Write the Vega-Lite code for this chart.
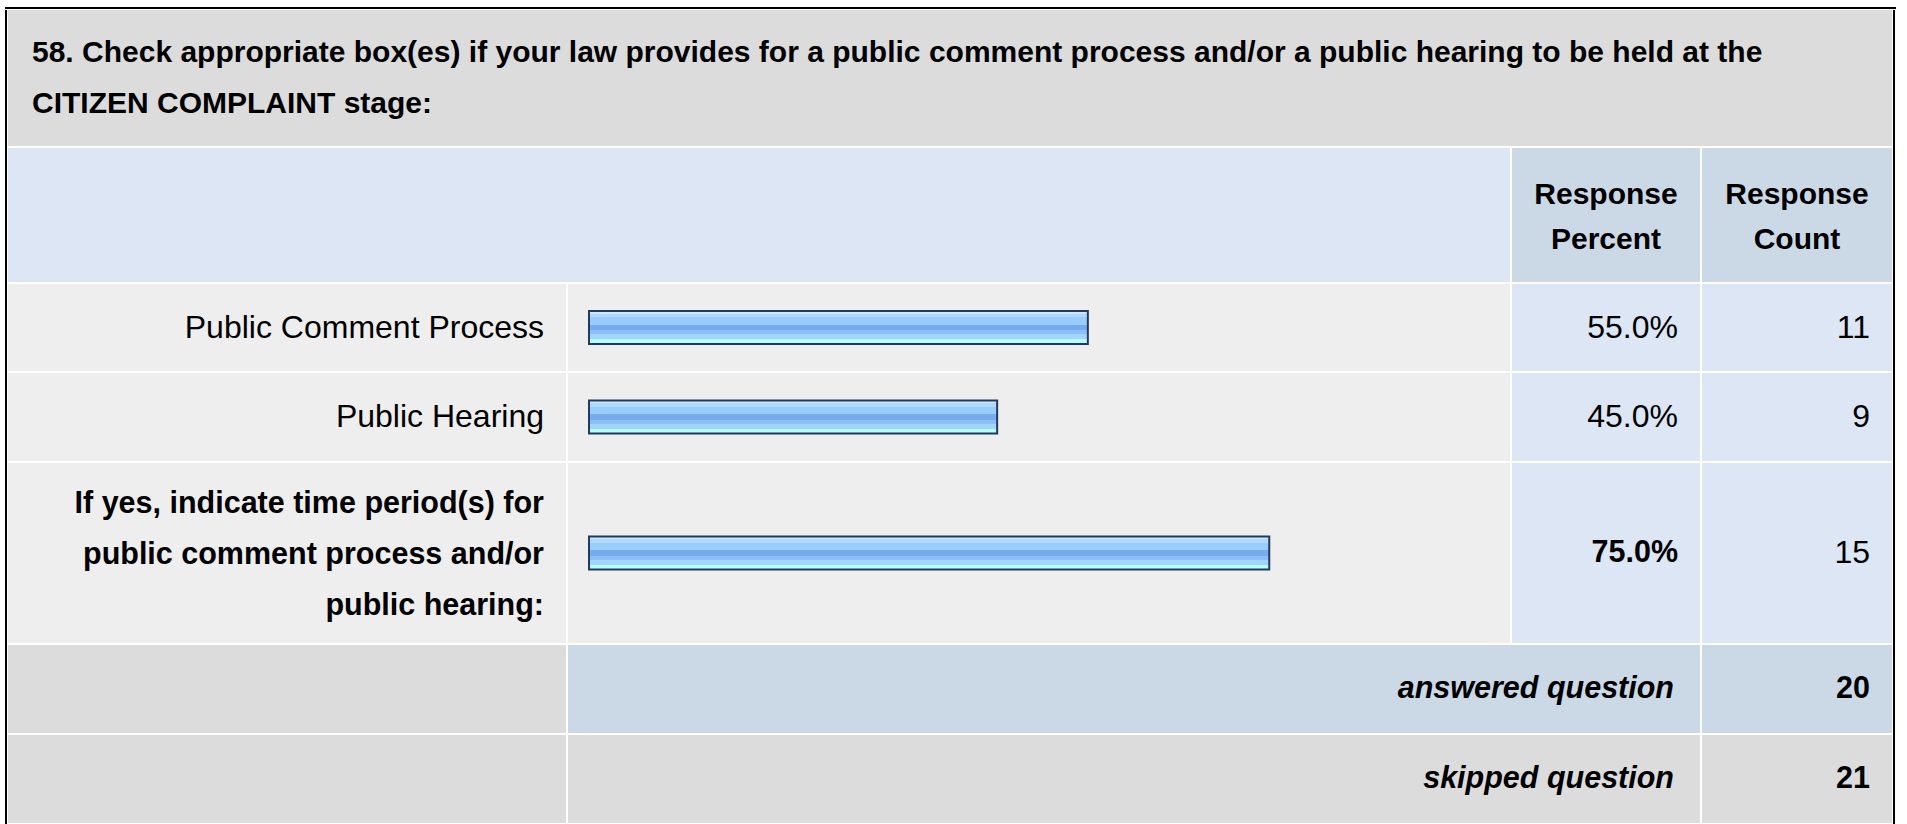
{
  "$schema": "https://vega.github.io/schema/vega-lite/v6.json",
  "background": "#ffffff",
  "padding": {"left": 5, "top": 7, "right": 0, "bottom": 0},
  "config": {
    "view": {"stroke": null},
    "text": {"font": "Liberation Sans", "fontSize": 32, "fill": "#000000", "baseline": "middle", "lineHeight": 50, "lineBreak": "\n"}
  },
  "datasets": {
    "question": [{"q": "58. Check appropriate box(es) if your law provides for a public comment process and/or a public hearing to be held at the\nCITIZEN COMPLAINT stage:"}],
    "answers": [
      {"answer": "Public Comment Process", "percent": 0.55, "count": 11},
      {"answer": "Public Hearing", "percent": 0.45, "count": 9},
      {"answer": "If yes, indicate time period(s) for\npublic comment process and/or\npublic hearing:", "percent": 0.75, "count": 15}
    ],
    "summary": [
      {"stat": "answered question", "value": 20},
      {"stat": "skipped question", "value": 21}
    ]
  },
  "spacing": 1,
  "vconcat": [
    {"width": 1891, "height": 2, "data": {"name": "question"}, "mark": {"type": "rect", "color": "#000000"}},
    {
      "spacing": 1,
      "hconcat": [
        {"width": 2, "height": 816, "data": {"name": "question"}, "mark": {"type": "rect", "color": "#000000"}},
        {
          "spacing": 2,
          "vconcat": [
            {
              "width": 1884, "height": 136, "view": {"fill": "#DCDCDC"},
              "data": {"name": "question"},
              "mark": {"type": "text", "align": "left", "dx": 24, "dy": -25, "fontWeight": "bold", "fontSize": 30, "lineHeight": 51},
              "encoding": {"x": {"value": 0}, "text": {"field": "q"}}
            },
            {
              "spacing": 2,
              "hconcat": [
                {"width": 1502, "height": 134, "data": {"name": "question"}, "mark": {"type": "rect", "color": "#DCE6F4"}},
                {"width": 188, "height": 134, "view": {"fill": "#CBD8E6"}, "data": {"name": "question"}, "mark": {"type": "text", "text": "Response\nPercent", "fontWeight": "bold", "fontSize": 30, "lineHeight": 45, "dy": -20, "align": "center"}},
                {"width": 190, "height": 134, "view": {"fill": "#CBD8E6"}, "data": {"name": "question"}, "mark": {"type": "text", "text": "Response\nCount", "fontWeight": "bold", "fontSize": 30, "lineHeight": 45, "dy": -20, "align": "center"}}
              ]
            },
            {
              "spacing": 2,
              "hconcat": [
                {"width": 558, "height": 87, "view": {"fill": "#EEEEEE"}, "data": {"name": "answers"}, "transform": [{"filter": {"field": "answer", "equal": "Public Comment Process"}}],
                 "mark": {"type": "text", "align": "right", "dx": -22}, "encoding": {"x": {"value": "width"}, "text": {"field": "answer"}}},
                {"width": 942, "height": 87, "view": {"fill": "#EEEEEE"}, "data": {"name": "answers"}, "transform": [{"filter": {"field": "answer", "equal": "Public Comment Process"}}],
                 "mark": {"type": "bar", "height": 33, "stroke": "#213A5E", "strokeWidth": 2,
                   "color": {"gradient": "linear", "x1": 0, "y1": 0, "x2": 0, "y2": 1, "stops": [
                     {"offset": 0, "color": "#CCE8FF"}, {"offset": 0.09, "color": "#CCE8FF"},
                     {"offset": 0.09, "color": "#B0D8FF"}, {"offset": 0.19, "color": "#B0D8FF"},
                     {"offset": 0.19, "color": "#99CCFF"}, {"offset": 0.41, "color": "#99CCFF"},
                     {"offset": 0.41, "color": "#78ABEE"}, {"offset": 0.59, "color": "#78ABEE"},
                     {"offset": 0.59, "color": "#8CBFF8"}, {"offset": 0.7, "color": "#8CBFF8"},
                     {"offset": 0.7, "color": "#A3D3FF"}, {"offset": 0.85, "color": "#A3D3FF"},
                     {"offset": 0.85, "color": "#B3FFFF"}, {"offset": 1, "color": "#B3FFFF"}]}},
                 "encoding": {"x": {"field": "percent", "type": "quantitative", "scale": {"domain": [0, 1], "range": [21, 928]}, "axis": null}, "y": {"field": "answer", "type": "nominal", "axis": null}}},
                {"width": 188, "height": 87, "view": {"fill": "#DCE6F4"}, "data": {"name": "answers"}, "transform": [{"filter": {"field": "answer", "equal": "Public Comment Process"}}],
                 "mark": {"type": "text", "align": "right", "dx": -22}, "encoding": {"x": {"value": "width"}, "text": {"field": "percent", "type": "quantitative", "format": ".1%"}}},
                {"width": 190, "height": 87, "view": {"fill": "#DCE6F4"}, "data": {"name": "answers"}, "transform": [{"filter": {"field": "answer", "equal": "Public Comment Process"}}],
                 "mark": {"type": "text", "align": "right", "dx": -22}, "encoding": {"x": {"value": "width"}, "text": {"field": "count", "type": "quantitative"}}}
              ]
            },
            {
              "spacing": 2,
              "hconcat": [
                {"width": 558, "height": 88, "view": {"fill": "#EEEEEE"}, "data": {"name": "answers"}, "transform": [{"filter": {"field": "answer", "equal": "Public Hearing"}}],
                 "mark": {"type": "text", "align": "right", "dx": -22}, "encoding": {"x": {"value": "width"}, "text": {"field": "answer"}}},
                {"width": 942, "height": 88, "view": {"fill": "#EEEEEE"}, "data": {"name": "answers"}, "transform": [{"filter": {"field": "answer", "equal": "Public Hearing"}}],
                 "mark": {"type": "bar", "height": 33, "stroke": "#213A5E", "strokeWidth": 2,
                   "color": {"gradient": "linear", "x1": 0, "y1": 0, "x2": 0, "y2": 1, "stops": [
                     {"offset": 0, "color": "#CCE8FF"}, {"offset": 0.09, "color": "#CCE8FF"},
                     {"offset": 0.09, "color": "#B0D8FF"}, {"offset": 0.19, "color": "#B0D8FF"},
                     {"offset": 0.19, "color": "#99CCFF"}, {"offset": 0.41, "color": "#99CCFF"},
                     {"offset": 0.41, "color": "#78ABEE"}, {"offset": 0.59, "color": "#78ABEE"},
                     {"offset": 0.59, "color": "#8CBFF8"}, {"offset": 0.7, "color": "#8CBFF8"},
                     {"offset": 0.7, "color": "#A3D3FF"}, {"offset": 0.85, "color": "#A3D3FF"},
                     {"offset": 0.85, "color": "#B3FFFF"}, {"offset": 1, "color": "#B3FFFF"}]}},
                 "encoding": {"x": {"field": "percent", "type": "quantitative", "scale": {"domain": [0, 1], "range": [21, 928]}, "axis": null}, "y": {"field": "answer", "type": "nominal", "axis": null}}},
                {"width": 188, "height": 88, "view": {"fill": "#DCE6F4"}, "data": {"name": "answers"}, "transform": [{"filter": {"field": "answer", "equal": "Public Hearing"}}],
                 "mark": {"type": "text", "align": "right", "dx": -22}, "encoding": {"x": {"value": "width"}, "text": {"field": "percent", "type": "quantitative", "format": ".1%"}}},
                {"width": 190, "height": 88, "view": {"fill": "#DCE6F4"}, "data": {"name": "answers"}, "transform": [{"filter": {"field": "answer", "equal": "Public Hearing"}}],
                 "mark": {"type": "text", "align": "right", "dx": -22}, "encoding": {"x": {"value": "width"}, "text": {"field": "count", "type": "quantitative"}}}
              ]
            },
            {
              "spacing": 2,
              "hconcat": [
                {"width": 558, "height": 180, "view": {"fill": "#EEEEEE"}, "data": {"name": "answers"}, "transform": [{"filter": "datum.count == 15"}],
                 "mark": {"type": "text", "align": "right", "dx": -22, "dy": -49, "lineHeight": 51, "fontWeight": "bold", "fontSize": 30.5}, "encoding": {"x": {"value": "width"}, "text": {"field": "answer"}}},
                {"width": 942, "height": 180, "view": {"fill": "#EEEEEE"}, "data": {"name": "answers"}, "transform": [{"filter": "datum.count == 15"}],
                 "mark": {"type": "bar", "height": 33, "stroke": "#213A5E", "strokeWidth": 2,
                   "color": {"gradient": "linear", "x1": 0, "y1": 0, "x2": 0, "y2": 1, "stops": [
                     {"offset": 0, "color": "#CCE8FF"}, {"offset": 0.09, "color": "#CCE8FF"},
                     {"offset": 0.09, "color": "#B0D8FF"}, {"offset": 0.19, "color": "#B0D8FF"},
                     {"offset": 0.19, "color": "#99CCFF"}, {"offset": 0.41, "color": "#99CCFF"},
                     {"offset": 0.41, "color": "#78ABEE"}, {"offset": 0.59, "color": "#78ABEE"},
                     {"offset": 0.59, "color": "#8CBFF8"}, {"offset": 0.7, "color": "#8CBFF8"},
                     {"offset": 0.7, "color": "#A3D3FF"}, {"offset": 0.85, "color": "#A3D3FF"},
                     {"offset": 0.85, "color": "#B3FFFF"}, {"offset": 1, "color": "#B3FFFF"}]}},
                 "encoding": {"x": {"field": "percent", "type": "quantitative", "scale": {"domain": [0, 1], "range": [21, 928]}, "axis": null}, "y": {"field": "answer", "type": "nominal", "axis": null}}},
                {"width": 188, "height": 180, "view": {"fill": "#DCE6F4"}, "data": {"name": "answers"}, "transform": [{"filter": "datum.count == 15"}],
                 "mark": {"type": "text", "align": "right", "dx": -22, "fontWeight": "bold", "fontSize": 30.5}, "encoding": {"x": {"value": "width"}, "text": {"field": "percent", "type": "quantitative", "format": ".1%"}}},
                {"width": 190, "height": 180, "view": {"fill": "#DCE6F4"}, "data": {"name": "answers"}, "transform": [{"filter": "datum.count == 15"}],
                 "mark": {"type": "text", "align": "right", "dx": -22}, "encoding": {"x": {"value": "width"}, "text": {"field": "count", "type": "quantitative"}}}
              ]
            },
            {
              "spacing": 2,
              "hconcat": [
                {"width": 558, "height": 88, "data": {"name": "question"}, "mark": {"type": "rect", "color": "#DCDCDC"}},
                {"width": 1132, "height": 88, "view": {"fill": "#CBD8E6"}, "data": {"name": "summary"}, "transform": [{"filter": {"field": "stat", "equal": "answered question"}}],
                 "mark": {"type": "text", "align": "right", "dx": -26, "fontWeight": "bold", "fontStyle": "italic", "fontSize": 30.5}, "encoding": {"x": {"value": "width"}, "text": {"field": "stat"}}},
                {"width": 190, "height": 88, "view": {"fill": "#CBD8E6"}, "data": {"name": "summary"}, "transform": [{"filter": {"field": "stat", "equal": "answered question"}}],
                 "mark": {"type": "text", "align": "right", "dx": -22, "fontWeight": "bold", "fontSize": 30.5}, "encoding": {"x": {"value": "width"}, "text": {"field": "value", "type": "quantitative"}}}
              ]
            },
            {
              "spacing": 2,
              "hconcat": [
                {"width": 558, "height": 88, "data": {"name": "question"}, "mark": {"type": "rect", "color": "#DCDCDC"}},
                {"width": 1132, "height": 88, "view": {"fill": "#DCDCDC"}, "data": {"name": "summary"}, "transform": [{"filter": {"field": "stat", "equal": "skipped question"}}],
                 "mark": {"type": "text", "align": "right", "dx": -26, "fontWeight": "bold", "fontStyle": "italic", "fontSize": 30.5}, "encoding": {"x": {"value": "width"}, "text": {"field": "stat"}}},
                {"width": 190, "height": 88, "view": {"fill": "#DCDCDC"}, "data": {"name": "summary"}, "transform": [{"filter": {"field": "stat", "equal": "skipped question"}}],
                 "mark": {"type": "text", "align": "right", "dx": -22, "fontWeight": "bold", "fontSize": 30.5}, "encoding": {"x": {"value": "width"}, "text": {"field": "value", "type": "quantitative"}}}
              ]
            }
          ]
        },
        {"width": 2, "height": 816, "data": {"name": "question"}, "mark": {"type": "rect", "color": "#000000"}}
      ]
    }
  ]
}
